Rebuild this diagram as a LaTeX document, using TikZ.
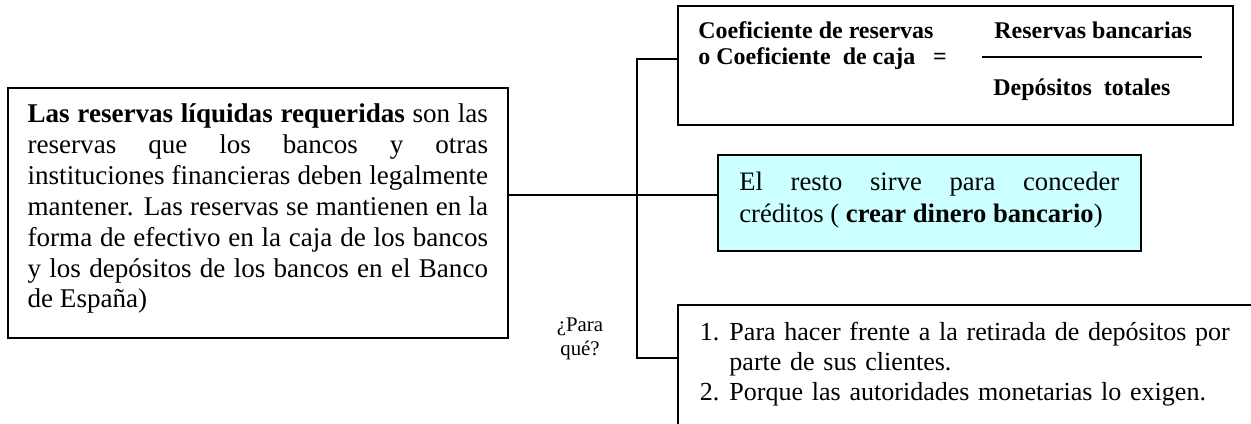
\documentclass[tikz,border=0pt]{standalone}
\usepackage{fontspec}
\setmainfont{Liberation Serif}
\usepackage{tikz}
\hbadness=10000
\tolerance=10000
\definecolor{cajacyan}{RGB}{204,255,255}

\begin{document}
\begin{tikzpicture}[x=0.48pt,y=-0.48pt,
  caja/.style={draw,line width=0.8pt,anchor=north west,inner ysep=0pt,align=justify},
  enlace/.style={line width=0.6pt},
  texto/.style={anchor=base west,inner sep=0pt,font=\fontsize{11.5}{13}\selectfont\bfseries}]
\useasboundingbox (0,0) rectangle (1251,423);
\clip (0,0) rectangle (1251,423);
\coordinate (arriba) at (637,59);
\coordinate (centro) at (637,195);
\coordinate (abajo) at (637,358);
\node[caja,text width=221pt,inner xsep=9.5pt,text height=16.8pt,text depth=103.2pt,font=\fontsize{13}{14.8}\selectfont] (def) at (7,87) {\textbf{Las reservas líquidas requeridas} son las\linebreak reservas que los bancos y otras\linebreak instituciones financieras deben legalmente\linebreak mantener. Las reservas se mantienen en la\linebreak forma de efectivo en la caja de los bancos\linebreak y los depósitos de los bancos en el Banco\linebreak de España)};
\node[caja,minimum width=266.4pt,minimum height=57.1pt,inner sep=0pt] (coef) at (677,5) {};
\node[texto] (coefa) at (698,38) {Coeficiente de reservas};
\node[texto] (coefb) at (698,64) {o Coeficiente\ \ de caja};
\node[texto,anchor=base] (igual) at (940,64) {=};
\node[texto] (num) at (994,38) {Reservas bancarias};
\node[texto] (den) at (993,95) {Depósitos\ \ totales};
\draw[line width=0.7pt] (982,57) -- (1202,57);
\node[caja,fill=cajacyan,text width=182.4pt,inner xsep=10.3pt,text height=17.3pt,text depth=28.8pt,font=\fontsize{12.8}{15.4}\selectfont] (resto) at (717,154) {El resto sirve para conceder\linebreak créditos ( \textbf{crear dinero bancario})};
\node[caja,align=left,text width=300pt,inner xsep=10.6pt,text height=17.3pt,text depth=110pt,font=\fontsize{12.5}{14.4}\selectfont] (para) at (677,304) {\begin{tabular}[t]{@{}l@{\hspace{4.8pt}}l@{}}1. & Para hacer frente a la retirada de depósitos por\\ & parte de sus clientes.\\ 2. & Porque las autoridades monetarias lo exigen.\end{tabular}};
\node[font=\fontsize{10}{11.5}\selectfont,align=center] (q) at (580,339) {¿Para\\qué?};
\draw[enlace] (coef.west |- arriba) -- (arriba) -- (abajo) -- (para.west |- abajo);
\draw[enlace] (def.east |- centro) -- (resto.west |- centro);
\end{tikzpicture}
\end{document}
